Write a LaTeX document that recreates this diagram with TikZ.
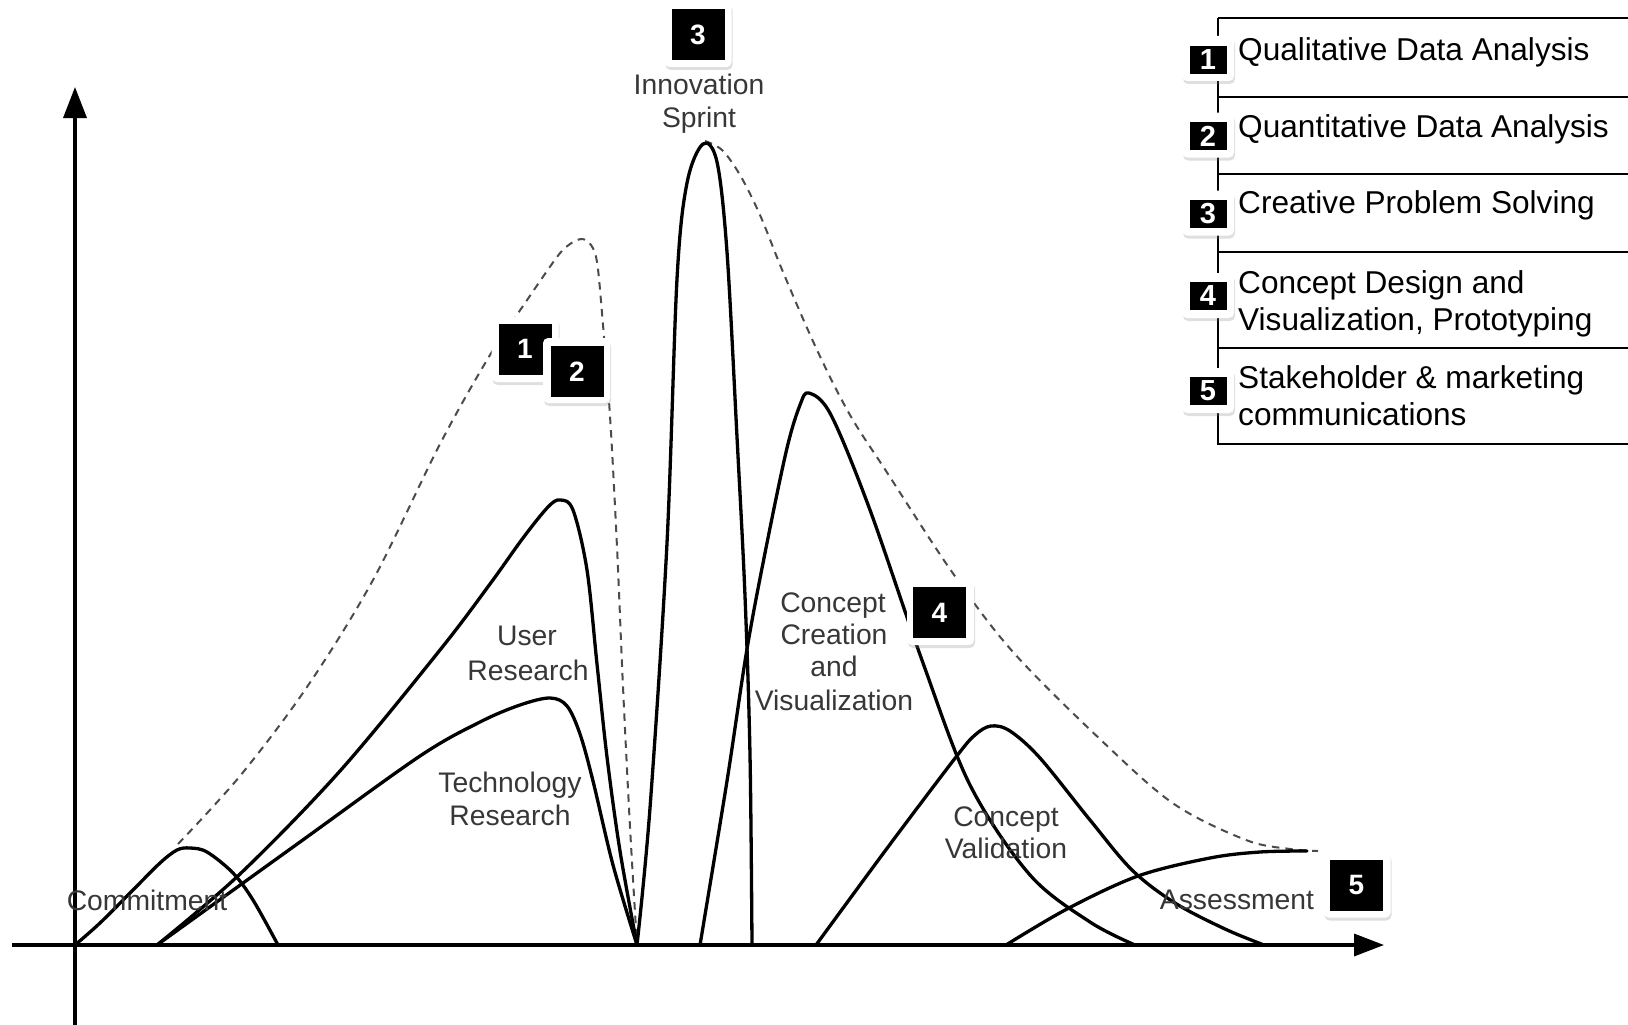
\documentclass[tikz,border=0pt]{standalone}
\usepackage{fontspec}
\setmainfont{Liberation Sans}
\usetikzlibrary{arrows.meta,shadows}
\definecolor{labelgray}{RGB}{55,55,55}
\definecolor{dashgray}{RGB}{75,75,75}
\begin{document}
\begin{tikzpicture}[x=1pt,y=-1pt,
  axis/.style={line width=3.5pt},
  curve/.style={line width=3.3pt, line join=round, line cap=round},
  envelope/.style={line width=2pt, dashgray, dash pattern=on 7.5pt off 6pt},
  lbl/.style={font=\fontsize{28.3}{33}\selectfont, text=labelgray, anchor=base, inner sep=0pt},
  legtext/.style={font=\fontsize{31.6}{37}\selectfont, anchor=base west, inner sep=0pt},
  badgebg/.style={fill=white, rounded corners=5pt, inner sep=0pt, minimum width=67pt, minimum height=65pt,
    drop shadow={shadow xshift=1pt, shadow yshift=-3pt, opacity=0.25}},
  badgefg/.style={fill=black, text=white, font=\fontsize{28}{28}\selectfont\bfseries, inner sep=0pt,
    minimum width=53pt, minimum height=51pt},
  legbg/.style={fill=white, rounded corners=5pt, inner sep=0pt, minimum width=52pt, minimum height=45pt,
    drop shadow={shadow xshift=1pt, shadow yshift=-3pt, opacity=0.25}},
  legfg/.style={fill=black, text=white, font=\fontsize{29}{29}\selectfont\bfseries, inner sep=0pt,
    minimum width=37pt, minimum height=28pt},
  legline/.style={line width=2pt}
]
\useasboundingbox (0,0) rectangle (1628,1025);

% axes
\coordinate (ybot) at (75,1025);
\coordinate (ytop) at (75,87);
\coordinate (xleft) at (12,945);
\coordinate (xright) at (1384,945);
\draw[axis,-{Triangle[length=31pt,width=23pt]}] (ybot) -- (ytop);
\draw[axis,-{Triangle[length=30pt,width=22pt]}] (xleft) -- (xright);

% dashed envelopes
\draw[envelope] plot[smooth, tension=0.55] coordinates {(178,844) (240,776) (307,687) (373,580) (440,444) (490,355) (523,306) (557,257) (570,244) (582,239) (591,245) (597,262) (602,313) (610,416) (617,547) (623,687) (630,827) (637,945)};
\draw[envelope] plot[smooth, tension=0.55] coordinates {(705,141) (722,150) (740,175) (760,215) (783,272) (817,350) (850,415) (888,474) (952,572) (1013,652) (1103,742) (1174,804) (1246,840) (1290,849) (1318,851)};

% curves
\draw[curve] plot[smooth, tension=0.55] coordinates {(75,945) (100,923) (133,890) (160,863) (177,850) (190,848) (207,852) (233,873) (253,900) (278,945)};
\draw[curve] plot[smooth, tension=0.55] coordinates {(157,945) (240,874) (340,771) (440,650) (490,584) (523,538) (548,507) (560,500) (573,510) (587,570) (597,664) (607,757) (620,851) (637,945)};
\draw[curve] plot[smooth, tension=0.55] coordinates {(157,945) (300,842) (420,756) (480,722) (520,705) (550,698) (567,706) (580,734) (593,781) (613,865) (637,945)};
\draw[curve] plot[smooth, tension=0.55] coordinates {(637,945) (650,808) (667,543) (677,279) (687,183) (703,144) (717,162) (727,252) (737,437) (745,596) (750,755) (752,945)};
\draw[curve] plot[smooth, tension=0.55] coordinates {(700,945) (727,781) (747,649) (767,543) (787,448) (800,405) (809,393) (831,415) (870,510) (923,663) (970,785) (1030,875) (1090,922) (1135,945)};
\draw[curve] plot[smooth, tension=0.55] coordinates {(816,945) (888,847) (956,757) (975,735) (991,726) (1010,731) (1040,758) (1090,820) (1132,870) (1175,903) (1225,929) (1264,945)};
\draw[curve] plot[smooth, tension=0.55] coordinates {(1006,945) (1067,909) (1138,876) (1210,858) (1260,852) (1307,851)};

% labels
\node[lbl] (commit) at (147,910) {Commitment};
\node[lbl] (user1) at (527,645) {User};
\node[lbl] (user2) at (528,680) {Research};
\node[lbl] (tech1) at (510,792) {Technology};
\node[lbl] (tech2) at (510,825) {Research};
\node[lbl] (inno1) at (699,94) {Innovation};
\node[lbl] (inno2) at (699,127) {Sprint};
\node[lbl] (cc1) at (833,612) {Concept};
\node[lbl] (cc2) at (834,644) {Creation};
\node[lbl] (cc3) at (834,676) {and};
\node[lbl] (cc4) at (834,710) {Visualization};
\node[lbl] (cv1) at (1006,826) {Concept};
\node[lbl] (cv2) at (1006,858) {Validation};
\node[lbl] (assess) at (1237,909) {Assessment};

% diagram badges
\node[badgebg] (b1w) at (525,349.5) {};
\node[badgefg] (b1) at (525,349) {1};
\node[badgebg] (b2w) at (576.5,370.5) {};
\node[badgefg] (b2) at (577,371.5) {2};
\node[badgebg] (b3w) at (698,34.5) {};
\node[badgefg] (b3) at (698,34.5) {3};
\node[badgebg] (b4w) at (940.5,612.5) {};
\node[badgefg] (b4) at (939.5,612.5) {4};
\node[badgebg] (b5w) at (1357,885) {};
\node[badgefg] (b5) at (1356.5,885) {5};

% legend
\coordinate (lv1) at (1218,18);
\coordinate (lv2) at (1218,445);
\draw[legline] (lv1) -- (lv2);
\foreach \yy in {18,97,174,252,348,444} {
  \draw[legline] (1218,\yy) -- (1630,\yy);
}
\node[legbg] (l1w) at (1208,58.5) {};
\node[legfg] (l1) at (1208,60) {1};
\node[legbg] (l2w) at (1208,135) {};
\node[legfg] (l2) at (1208,136) {2};
\node[legbg] (l3w) at (1208,213) {};
\node[legfg] (l3) at (1208,214) {3};
\node[legbg] (l4w) at (1208,295.5) {};
\node[legfg] (l4) at (1208,296) {4};
\node[legbg] (l5w) at (1208,390.5) {};
\node[legfg] (l5) at (1208,391) {5};

\node[legtext] (t1) at (1238,60) {Qualitative Data Analysis};
\node[legtext] (t2) at (1238,137) {Quantitative Data Analysis};
\node[legtext] (t3) at (1238,213) {Creative Problem Solving};
\node[legtext] (t4a) at (1238,293) {Concept Design and};
\node[legtext] (t4b) at (1238,330) {Visualization, Prototyping};
\node[legtext] (t5a) at (1238,388) {Stakeholder \& marketing};
\node[legtext] (t5b) at (1238,425) {communications};
\end{tikzpicture}
\end{document}
